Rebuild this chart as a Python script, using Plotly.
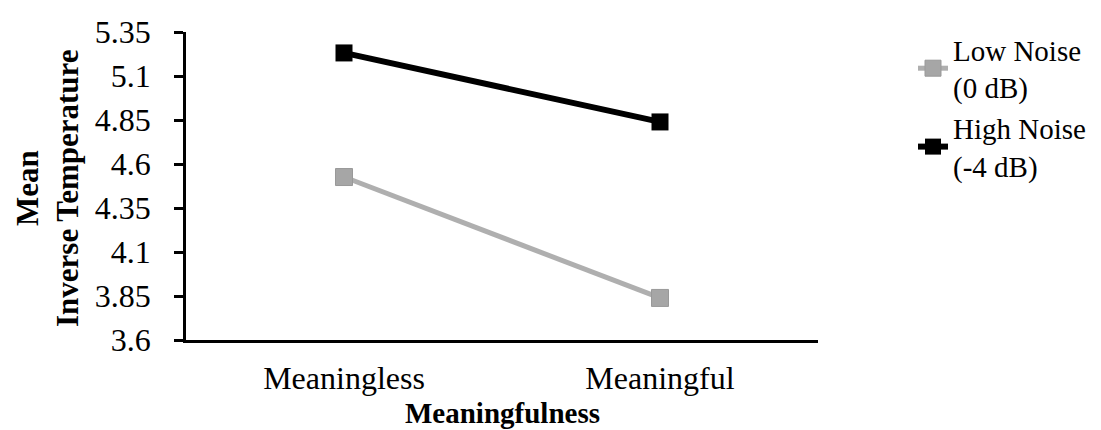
import plotly.graph_objects as go

categories = ["Meaningless", "Meaningful"]
low_noise = [4.526, 3.839]
high_noise = [5.231, 4.839]
tick_vals = [3.6, 3.85, 4.1, 4.35, 4.6, 4.85, 5.1, 5.35]
tick_text = ["3.6", "3.85", "4.1", "4.35", "4.6", "4.85", "5.1", "5.35"]

FONT = "Liberation Serif, Times New Roman, serif"

L, R, T, B = 178, 291, 24, 98
W, H = 1101, 430
PW = W - L - R
PH = H - T - B

fig = go.Figure()
fig.add_trace(go.Scatter(
    x=categories, y=low_noise, mode="lines+markers",
    name="Low Noise<br>(0 dB)",
    line=dict(color="#AFAFAF", width=5),
    marker=dict(symbol="square", size=17, color="#A6A6A6",
                line=dict(color="#999999", width=1)),
))
fig.add_trace(go.Scatter(
    x=categories, y=high_noise, mode="lines+markers",
    name="High Noise<br>(-4 dB)",
    line=dict(color="#000000", width=6),
    marker=dict(symbol="square", size=17, color="#000000"),
))

# y-axis title (two lines, rotated)
fig.add_annotation(
    text="<b>Mean<br>Inverse Temperature</b>",
    xref="paper", yref="paper",
    x=(39 - L) / PW, y=0.5 - 2 / PH,
    textangle=-90, showarrow=False,
    font=dict(family=FONT, size=31, color="black"),
    xanchor="center", yanchor="middle",
)
# x-axis title
fig.add_annotation(
    text="<b>Meaningfulness</b>",
    xref="paper", yref="paper",
    x=0.5, y=-(405 - (H - B)) / PH,
    showarrow=False,
    font=dict(family=FONT, size=29, color="black"),
    xanchor="center", yanchor="middle",
)

fig.update_layout(
    template="none",
    width=W, height=H,
    margin=dict(l=L, r=R, t=T, b=B, autoexpand=False),
    paper_bgcolor="white", plot_bgcolor="white",
    font=dict(family=FONT, size=32, color="black"),
    showlegend=True,
    legend=dict(xref="container", yref="container",
                x=905 / W, y=1 - 16 / H, xanchor="left", yanchor="top",
                font=dict(family=FONT, size=29, color="black"),
                tracegroupgap=0, itemwidth=30, bgcolor="rgba(0,0,0,0)",
                borderwidth=0),
    xaxis=dict(
        type="category", range=[-0.5, 1.5], automargin=False,
        showline=True, linecolor="black", linewidth=2.5,
        ticks="", showgrid=False, zeroline=False,
        tickfont=dict(family=FONT, size=32),
        ticklabelstandoff=8,
    ),
    yaxis=dict(
        range=[3.6, 5.35], tickvals=tick_vals, ticktext=tick_text, automargin=False,
        showline=True, linecolor="black", linewidth=2.5,
        ticks="outside", ticklen=9, tickwidth=2.5, tickcolor="black",
        showgrid=False, zeroline=False,
        tickfont=dict(family=FONT, size=32),
        ticklabelstandoff=17,
    ),
)

fig.write_html("out.html")
